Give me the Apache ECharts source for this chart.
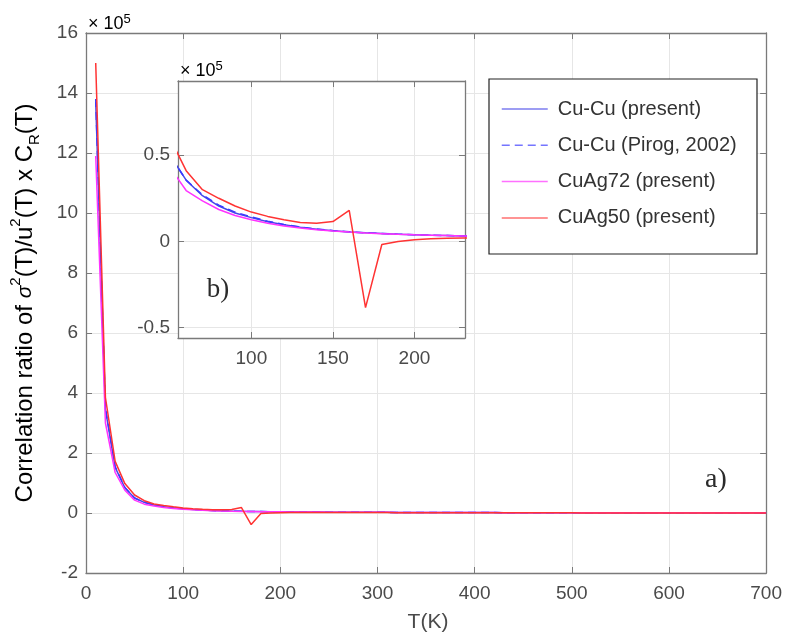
<!DOCTYPE html>
<html>
<head>
<meta charset="utf-8">
<script src="https://cdn.jsdelivr.net/npm/echarts@6/dist/echarts.min.js"></script>
<style>
  html, body { margin: 0; padding: 0; background: #fff; }
  #chart { width: 785px; height: 637px; }
</style>
</head>
<body>
<div id="chart"></div>
<script>
// Temperature grid (K) and correlation ratios, in units of 1e5
const temperature = [10,20,30,40,50,60,70,80,90,100,110,120,130,140,150,160,170,180,190,200,
  210,220,230,240,250,260,270,280,290,300,310,320,330,340,350,360,370,380,390,400,
  410,420,430,440,450,460,470,480,490,500,510,520,530,540,550,560,570,580,590,600,
  610,620,630,640,650,660,670,680,690,700];

const cuCuPresent = [13.7,3.45,1.52,0.84,0.50,0.355,0.265,0.205,0.165,0.138,0.114,0.096,0.082,0.071,0.062,0.055,0.050,0.046,0.042,0.039,
  0.036,0.034,0.032,0.030,0.028,0.027,0.025,0.024,0.023,0.022,0.021,0.020,0.019,0.018,0.017,0.016,0.016,0.015,0.014,0.014,
  0.013,0.013,0.012,0.012,0.011,0.011,0.010,0.010,0.010,0.009,0.009,0.009,0.008,0.008,0.008,0.008,0.007,0.007,0.007,0.007,
  0.006,0.006,0.006,0.006,0.006,0.005,0.005,0.005,0.005,0.005];

const cuCuPirog = [13.8,3.5,1.55,0.85,0.50,0.355,0.27,0.21,0.17,0.142,0.117,0.098,0.083,0.072,0.063,0.056,0.050,0.046,0.042,0.039,
  0.036,0.034,0.032,0.030,0.028,0.027,0.025,0.024,0.023,0.022,0.021,0.020,0.019,0.018,0.017,0.016,0.016,0.015,0.014,0.014,
  0.013,0.013,0.012,0.012,0.011,0.011,0.010,0.010,0.010,0.009,0.009,0.009,0.008,0.008,0.008,0.008,0.007,0.007,0.007,0.007,
  0.006,0.006,0.006,0.006,0.006,0.005,0.005,0.005,0.005,0.005];

const cuAg72 = [11.9,3.0,1.35,0.76,0.43,0.295,0.235,0.185,0.15,0.125,0.105,0.09,0.078,0.068,0.060,0.054,0.049,0.045,0.041,0.038,
  0.036,0.034,0.032,0.030,0.028,0.027,0.025,0.024,0.023,0.022,0.021,0.020,0.019,0.018,0.017,0.016,0.016,0.015,0.014,0.014,
  0.013,0.013,0.012,0.012,0.011,0.011,0.010,0.010,0.010,0.009,0.009,0.009,0.008,0.008,0.008,0.008,0.007,0.007,0.007,0.007,
  0.006,0.006,0.006,0.006,0.006,0.005,0.005,0.005,0.005,0.005];

const cuAg50 = [15.0,3.85,1.72,0.98,0.60,0.41,0.30,0.25,0.205,0.17,0.145,0.125,0.11,0.105,0.115,0.18,-0.384,-0.018,0.0,0.01,
  0.015,0.018,0.02,0.02,0.019,0.018,0.017,0.016,0.015,0.014,0.013,0.012,0.012,0.011,0.010,0.010,0.009,0.009,0.008,0.008,
  0.007,0.007,0.007,0.006,0.006,0.006,0.005,0.005,0.005,0.005,0.004,0.004,0.004,0.004,0.004,0.004,0.004,0.004,0.004,0.004,
  0.004,0.004,0.004,0.004,0.004,0.004,0.004,0.004,0.004,0.004];

const seriesNames = ['Cu-Cu (present)', 'Cu-Cu (Pirog, 2002)', 'CuAg72 (present)', 'CuAg50 (present)'];
const seriesValues = [cuCuPresent, cuCuPirog, cuAg72, cuAg50];

const mainXTicks = [0, 100, 200, 300, 400, 500, 600, 700];
const mainYTicks = [-2, 0, 2, 4, 6, 8, 10, 12, 14, 16];
const insetXTicks = [100, 150, 200];
const insetYTicks = [-0.5, 0, 0.5];

const lineColors = ['#4646e8', '#3a3aff', '#ff33ff', '#ff3333'];
const lineTypes = ['solid', [8, 5], 'solid', 'solid'];

const axisGray = '#7a7a7a';
const labelGray = '#4a4a4a';
const gridGray = '#e6e6e6';
const FONT = 'Liberation Sans, Arial, sans-serif';

function pairs(values) {
  return temperature.map((t, i) => [t, values[i]]);
}

function xAxisDef(gridIndex, min, max, ticks, pos, z, showLabel) {
  return {
    type: 'value', gridIndex, min, max, position: pos, z,
    axisLine: { show: true, onZero: false, lineStyle: { color: axisGray, width: 1.3 } },
    axisTick: { show: true, inside: true, length: 6, customValues: ticks, lineStyle: { color: axisGray } },
    axisLabel: { show: showLabel, customValues: ticks, margin: 11, fontSize: 19, color: labelGray, fontFamily: FONT },
    splitLine: { show: showLabel, lineStyle: { color: gridGray, width: 1 } }
  };
}
function yAxisDef(gridIndex, min, max, ticks, pos, z, showLabel) {
  return {
    type: 'value', gridIndex, min, max, position: pos, z,
    axisLine: { show: true, onZero: false, lineStyle: { color: axisGray, width: 1.3 } },
    axisTick: { show: true, inside: true, length: 6, customValues: ticks, lineStyle: { color: axisGray } },
    axisLabel: { show: showLabel, customValues: ticks, margin: 8, fontSize: 19, color: labelGray, fontFamily: FONT },
    splitLine: { show: showLabel, lineStyle: { color: gridGray, width: 1 } }
  };
}

const series = [];
seriesValues.forEach((vals, k) => {
  // main panel
  series.push({
    name: seriesNames[k], type: 'line', xAxisIndex: 0, yAxisIndex: 0,
    data: pairs(vals), showSymbol: false, symbol: 'none', z: 2 + k * 0.01,
    lineStyle: { color: lineColors[k], width: 1.5, type: lineTypes[k] },
    itemStyle: { color: lineColors[k] }, animation: false
  });
  // inset panel b)
  series.push({
    name: seriesNames[k], type: 'line', xAxisIndex: 2, yAxisIndex: 2,
    data: pairs(vals), showSymbol: false, symbol: 'none', clip: true, z: 5,
    lineStyle: { color: lineColors[k], width: 1.5, type: lineTypes[k] },
    itemStyle: { color: lineColors[k] }, animation: false
  });
});

const supRich = {
  t: { fontSize: 24, fontFamily: FONT, color: labelGray, lineHeight: 34 },
  g: { fontSize: 21, fontFamily: FONT, fontStyle: 'italic', color: labelGray, lineHeight: 34 },
  sup: { fontSize: 15, fontFamily: FONT, color: labelGray, lineHeight: 15, verticalAlign: 'top' },
  sub: { fontSize: 15, fontFamily: FONT, color: labelGray, lineHeight: 15, verticalAlign: 'bottom' }
};
const expRich = {
  a: { fontSize: 18, fontFamily: FONT, color: labelGray, lineHeight: 22 },
  s: { fontSize: 13, fontFamily: FONT, color: labelGray, lineHeight: 13, verticalAlign: 'top' }
};

const chart = echarts.init(document.getElementById('chart'), null, { renderer: 'canvas' });
chart.setOption({
  animation: false,
  backgroundColor: '#fff',
  grid: [
    { left: 86, top: 33, width: 682, height: 540, show: false },
    { left: 178, top: 81, width: 287, height: 257, show: false }
  ],
  xAxis: [
    xAxisDef(0, 0, 700, mainXTicks, 'bottom', 0, true),
    xAxisDef(0, 0, 700, mainXTicks, 'top', 0, false),
    xAxisDef(1, 55, 231, insetXTicks, 'bottom', 4, true),
    xAxisDef(1, 55, 231, insetXTicks, 'top', 4, false)
  ],
  yAxis: [
    yAxisDef(0, -2, 16, mainYTicks, 'left', 0, true),
    yAxisDef(0, -2, 16, mainYTicks, 'right', 0, false),
    yAxisDef(1, -0.56, 0.93, insetYTicks, 'left', 4, true),
    yAxisDef(1, -0.56, 0.93, insetYTicks, 'right', 4, false)
  ],
  legend: {
    data: seriesNames,
    orient: 'vertical',
    left: 501, top: 99,
    padding: 0,
    itemWidth: 46, itemHeight: 20, itemGap: 16.3,
    z: 8,
    itemStyle: { opacity: 0 },
    lineStyle: { width: 1.5, opacity: 0.7 },
    textStyle: { fontSize: 20, color: '#333', fontFamily: FONT, padding: [0, 0, 0, 5] }
  },
  graphic: [
    { type: 'rect', z: 3, shape: { x: 178, y: 81, width: 287, height: 257 }, style: { fill: '#fff' } },
    { type: 'rect', z: 7, shape: { x: 489, y: 79, width: 268, height: 175 }, style: { fill: '#fff', stroke: '#222', lineWidth: 1.2 } },
    {
      type: 'text', z: 6, x: 25, y: 303, rotation: Math.PI / 2,
      style: {
        text: '{t|Correlation ratio of }{g|σ}{sup|2}{t|(T)/u}{sup|2}{t|(T) x C}{sub|R}{t|(T)}',
        rich: supRich, align: 'center', verticalAlign: 'middle'
      }
    },
    {
      type: 'text', z: 6, x: 428, y: 622,
      style: { text: 'T(K)', font: '21px ' + FONT, fill: labelGray, align: 'center', verticalAlign: 'middle' }
    },
    {
      type: 'text', z: 6, x: 88, y: 24,
      style: { text: '{a|× 10}{s|5}', rich: expRich, align: 'left', verticalAlign: 'middle' }
    },
    {
      type: 'text', z: 6, x: 180, y: 71,
      style: { text: '{a|× 10}{s|5}', rich: expRich, align: 'left', verticalAlign: 'middle' }
    },
    {
      type: 'text', z: 6, x: 716, y: 480,
      style: { text: 'a)', font: '28px Liberation Serif, Times New Roman, serif', fill: '#2b2b2b', align: 'center', verticalAlign: 'middle' }
    },
    {
      type: 'text', z: 6, x: 218, y: 290,
      style: { text: 'b)', font: '27px Liberation Serif, Times New Roman, serif', fill: '#2b2b2b', align: 'center', verticalAlign: 'middle' }
    }
  ],
  series
});
</script>
</body>
</html>
